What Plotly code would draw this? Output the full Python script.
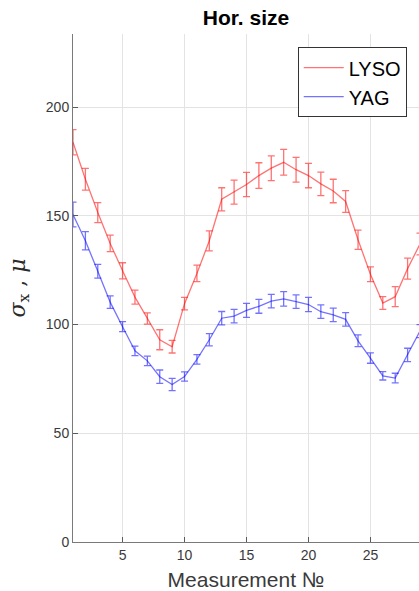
import plotly.graph_objects as go

measurement = list(range(1, 30))

lyso_sigma = [183.8, 166.8, 151.5, 137.3, 124.7, 112.6, 102.8, 93.0, 89.8, 109.6,
              123.5, 138.5, 157.6, 160.9, 164.4, 168.5, 171.9, 174.6, 171.2, 168.5,
              164.7, 161.4, 156.6, 139.0, 123.1, 109.9, 112.8, 125.7, 137.0]
lyso_err = [5.8, 5.0, 4.6, 3.8, 3.7, 3.2, 2.6, 4.6, 2.9, 2.9,
            3.8, 4.6, 5.3, 5.5, 5.6, 5.9, 5.7, 5.9, 5.7, 5.6,
            5.4, 5.4, 5.0, 4.4, 3.4, 2.9, 4.6, 4.8, 5.0]

yag_sigma = [150.6, 138.5, 124.5, 110.3, 99.0, 87.9, 83.3, 76.0, 72.4, 76.1,
             84.0, 93.0, 102.9, 103.9, 106.5, 108.4, 110.8, 111.8, 110.5, 109.2,
             105.9, 104.4, 102.4, 92.5, 84.6, 76.4, 75.4, 86.0, 97.0]
yag_err = [5.7, 4.2, 3.2, 2.9, 2.3, 2.2, 2.2, 3.1, 2.8, 2.1,
           2.2, 2.8, 3.1, 3.1, 3.2, 3.2, 3.1, 3.3, 3.1, 3.3,
           3.1, 3.1, 3.1, 2.7, 2.4, 1.9, 2.2, 3.1, 3.0]

x_ticks = [5, 10, 15, 20, 25]
y_ticks = [0, 50, 100, 150, 200]

red = "rgba(255,0,0,0.55)"
blue = "rgba(0,0,255,0.55)"
FONT = "Liberation Sans, Arial, sans-serif"

fig = go.Figure()
fig.add_trace(go.Scatter(
    x=measurement, y=lyso_sigma, name="LYSO", mode="lines",
    line=dict(color=red, width=1.3),
    error_y=dict(type="data", array=lyso_err, visible=True, color=red, thickness=1.3, width=3.5),
))
fig.add_trace(go.Scatter(
    x=measurement, y=yag_sigma, name="YAG", mode="lines",
    line=dict(color=blue, width=1.3),
    error_y=dict(type="data", array=yag_err, visible=True, color=blue, thickness=1.3, width=3.5),
))

axis_common = dict(
    showgrid=True, gridcolor="#e3e3e3", gridwidth=1,
    ticks="inside", ticklen=5, tickcolor="#5a5a5a",
    showline=True, linecolor="#7a7a7a", linewidth=1,
    zeroline=False,
    tickfont=dict(family=FONT, size=14, color="#3a3a3a"),
)

fig.update_layout(
    width=419, height=591,
    margin=dict(l=73, r=0, t=34, b=49),
    paper_bgcolor="white", plot_bgcolor="white",
    title=dict(text="<b>Hor. size</b>", x=0.5, xref="paper", xanchor="center",
               y=1 - 18 / 591, yref="container", yanchor="middle",
               font=dict(family=FONT, size=21, color="black")),
    xaxis=dict(range=[1, 28.92], tickvals=x_ticks,
               title=dict(text="Measurement №", standoff=10,
                          font=dict(family=FONT, size=21, color="#3a3a3a")),
               **axis_common),
    yaxis=dict(range=[0, 233.6], tickvals=y_ticks,
               title=dict(text="<i>σ</i><sub>x</sub> , <i>μ</i>", standoff=14,
                          font=dict(family="DejaVu Serif, serif", size=22, color="#2a2a2a")),
               **axis_common),
    legend=dict(x=0.9645, y=0.974, xanchor="right", yanchor="top",
                bgcolor="white", bordercolor="#333333", borderwidth=1,
                font=dict(family=FONT, size=20, color="black"),
                tracegroupgap=0, itemwidth=40),
    showlegend=True,
)

fig.write_html(
    "out.html",
    config={"displayModeBar": False},
    post_script="document.body.style.margin='0';document.body.style.overflow='hidden';",
)
